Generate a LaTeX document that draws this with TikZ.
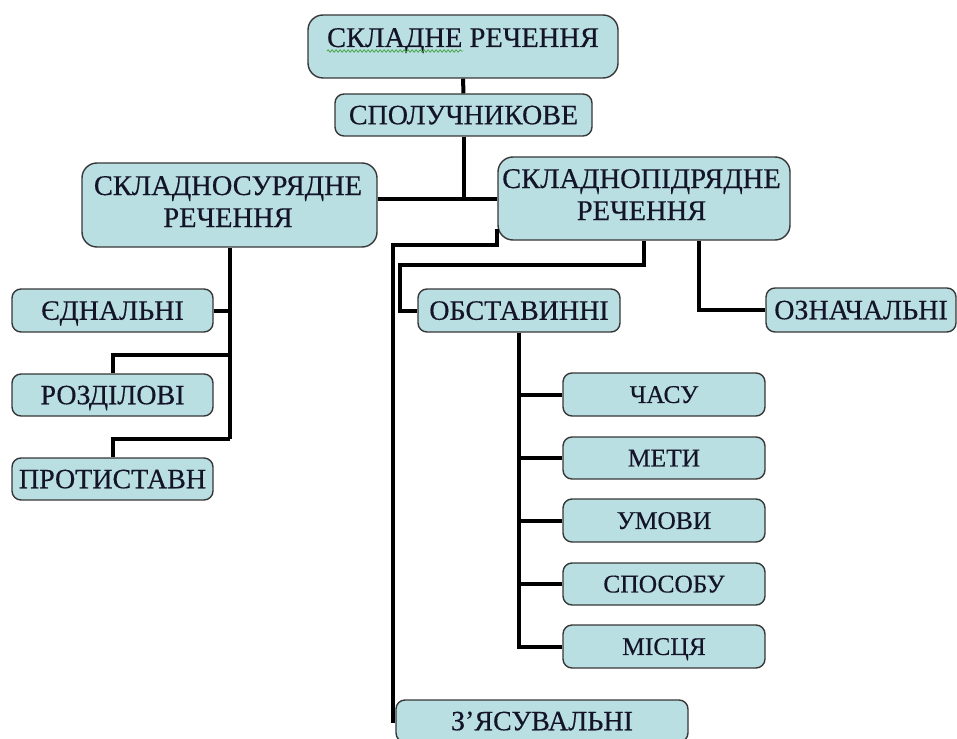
\documentclass[tikz,border=0pt]{standalone}
\usepackage{fontspec}
\setmainfont{Liberation Serif}[FakeBold=0.4]
\usetikzlibrary{calc,decorations.pathmorphing}
\definecolor{boxfill}{RGB}{186,223,227}
\definecolor{boxline}{RGB}{55,55,55}
\definecolor{spellgreen}{RGB}{70,165,70}
\definecolor{txt}{RGB}{20,20,40}
\begin{document}
\begin{tikzpicture}[x=1pt,y=-1pt,
  box/.style={draw=boxline, line width=1.4pt, fill=boxfill, rounded corners=9pt, inner sep=0pt, align=center, text=txt},
  bigbox/.style={box, rounded corners=15pt},
  conn/.style={line width=4pt, line join=miter, line cap=butt},
  bigtext/.style={font=\fontsize{28.5}{32}\selectfont, inner sep=0pt, text=txt},
  midtext/.style={font=\fontsize{28}{30}\selectfont, text height=18.5pt, text depth=0pt},
  smalltext/.style={font=\fontsize{25.5}{28}\selectfont, text height=16.9pt, text depth=0pt}]
\useasboundingbox (0,0) rectangle (957,738);
\clip (0,0) rectangle (957,738);

% boxes
\node[bigbox, minimum width=310pt, minimum height=63pt] (top) at (463,46.5) {};
\node[bigtext, anchor=base] (topt) at (463,47) {СКЛАДНЕ РЕЧЕННЯ};
\draw[spellgreen, line width=0.8pt, decorate, decoration={snake, amplitude=1.2pt, segment length=4pt}] (topt.base west |- 0,51) coordinate (sq1) -- (463,51) coordinate (sq2);

\node[box, midtext, minimum width=257pt, minimum height=42pt] (spol) at (463.5,115) {СПОЛУЧНИКОВЕ};

\node[bigbox, minimum width=295pt, minimum height=84pt] (sur) at (229.5,205) {};
\node[bigtext, anchor=base] (surt1) at (228,195) {СКЛАДНОСУРЯДНЕ};
\node[bigtext, anchor=base] (surt2) at (228,227) {РЕЧЕННЯ};

\node[bigbox, minimum width=292pt, minimum height=83pt] (pid) at (644,198.5) {};
\node[bigtext, anchor=base] (pidt1) at (641.5,188) {СКЛАДНОПІДРЯДНЕ};
\node[bigtext, anchor=base] (pidt2) at (641.5,220) {РЕЧЕННЯ};

\node[box, midtext, minimum width=202pt, minimum height=43pt] (obst) at (519,310.5) {ОБСТАВИННІ};
\node[box, midtext, minimum width=190pt, minimum height=44pt] (ozn) at (861,310) {ОЗНАЧАЛЬНІ};

\node[box, midtext, minimum width=201pt, minimum height=43pt] (yed) at (112.5,310.5) {ЄДНАЛЬНІ};
\node[box, midtext, minimum width=201pt, minimum height=42pt] (rozd) at (112.5,395) {РОЗДІЛОВІ};
\node[box, midtext, minimum width=201pt, minimum height=42pt] (prot) at (112.5,479) {ПРОТИСТАВН};

\node[box, smalltext, minimum width=202pt, minimum height=43pt] (chasu) at (664,394.5) {ЧАСУ};
\node[box, smalltext, minimum width=202pt, minimum height=42pt] (meti) at (664,458) {МЕТИ};
\node[box, smalltext, minimum width=202pt, minimum height=43pt] (umovy) at (664,520.5) {УМОВИ};
\node[box, smalltext, minimum width=202pt, minimum height=42pt] (sposobu) at (664,584) {СПОСОБУ};
\node[box, smalltext, minimum width=202pt, minimum height=43pt] (mistsia) at (664,646.5) {МІСЦЯ};

\node[box, midtext, minimum width=292pt, minimum height=42pt] (zyas) at (542,721) {З’ЯСУВАЛЬНІ};

% junction coordinates
\coordinate (j1) at (463.5,199);
\coordinate (c2) at (229.5,355);
\coordinate (c3) at (229.5,439);
\coordinate (c4) at (393,245);
\coordinate (c5) at (400,265);

% connectors
\draw[conn] (top.south) -- (spol.north);
\draw[conn] (spol.south) -- (spol.south |- j1);
\draw[conn] (j1 -| sur.east) -- (j1 -| pid.west);

\draw[conn] (sur.south) -- (c3);
\draw[conn] (yed.east) -- (yed.east -| sur.south);
\draw[conn] (c2) -| (rozd.north);
\draw[conn] (c3) -| (prot.north);

\draw[conn] ($(pid.south west)+(0,-12)$) |- (c4) |- (zyas.west);
\draw[conn] (pid.south) |- (c5) |- (obst.west);
\draw[conn] ($(pid.south)+(55,0)$) |- (ozn.west);

\draw[conn] (obst.south) -- (obst.south |- mistsia.west) -- (mistsia.west);
\draw[conn] (chasu.west) -- (chasu.west -| obst.south);
\draw[conn] (meti.west) -- (meti.west -| obst.south);
\draw[conn] (umovy.west) -- (umovy.west -| obst.south);
\draw[conn] (sposobu.west) -- (sposobu.west -| obst.south);
\end{tikzpicture}
\end{document}
